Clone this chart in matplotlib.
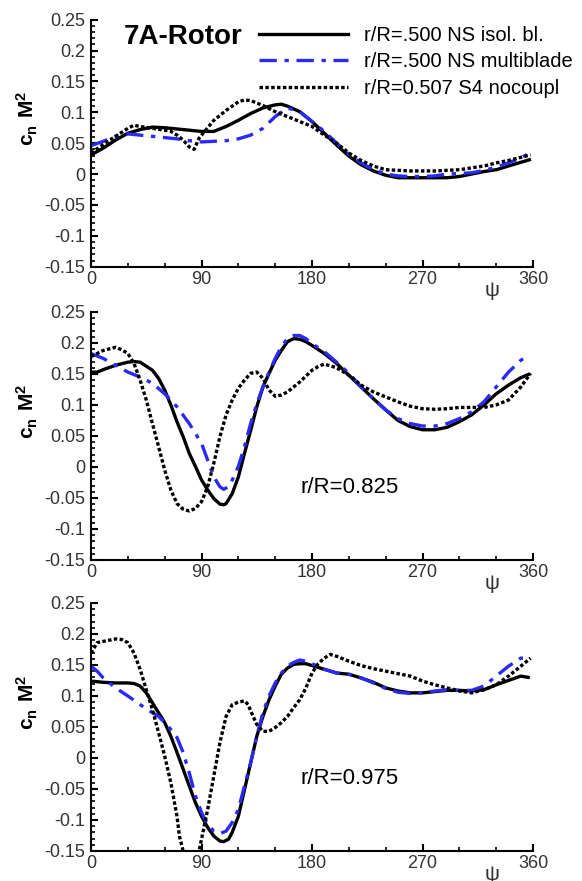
import numpy as np
import matplotlib
matplotlib.use("Agg")
import matplotlib.pyplot as plt
from matplotlib.ticker import MultipleLocator, FuncFormatter

# values: azimuth psi (deg) and c_n M^2

# --- panel 1: r/R = 0.5 ---
psi1_iso = [0, 10, 20, 30, 40, 50, 60, 70, 80, 90, 100, 110, 120, 130, 140, 150, 155,
            160, 170, 180, 190, 200, 210, 220, 230, 240, 250, 260, 270, 280, 290, 300,
            310, 320, 330, 340, 350, 357]
cn1_iso = [0.031, 0.042, 0.055, 0.066, 0.072, 0.076, 0.075, 0.073, 0.071, 0.069, 0.069,
           0.077, 0.087, 0.098, 0.107, 0.112, 0.113, 0.110, 0.101, 0.085, 0.066, 0.047,
           0.029, 0.015, 0.005, -0.002, -0.006, -0.006, -0.006, -0.006, -0.006, -0.004,
           0.000, 0.004, 0.007, 0.013, 0.019, 0.023]
psi1_multi = [0, 10, 20, 30, 40, 50, 60, 70, 80, 90, 100, 110, 120, 130, 140, 150, 160,
              170, 180, 190, 200, 210, 220, 230, 240, 250, 260, 270, 280, 290, 300, 310,
              320, 330, 340, 350, 357]
cn1_multi = [0.046, 0.053, 0.061, 0.065, 0.063, 0.061, 0.059, 0.057, 0.054, 0.052, 0.053,
             0.054, 0.057, 0.063, 0.074, 0.093, 0.107, 0.101, 0.085, 0.069, 0.050, 0.032,
             0.018, 0.007, 0.000, -0.003, -0.004, -0.004, -0.003, 0.000, 0.001, 0.002,
             0.006, 0.011, 0.018, 0.026, 0.034]
psi1_s4 = [0, 10, 20, 30, 35, 40, 50, 60, 65, 70, 75, 80, 84, 88, 95, 100, 110, 120, 125,
           130, 140, 150, 160, 170, 180, 190, 200, 210, 220, 230, 240, 250, 260, 270, 280,
           290, 300, 310, 320, 330, 340, 350, 358]
cn1_s4 = [0.034, 0.048, 0.061, 0.074, 0.079, 0.077, 0.074, 0.071, 0.069, 0.063, 0.055,
          0.044, 0.040, 0.058, 0.075, 0.087, 0.103, 0.117, 0.120, 0.119, 0.111, 0.101,
          0.093, 0.085, 0.077, 0.063, 0.050, 0.034, 0.022, 0.013, 0.007, 0.006, 0.005,
          0.005, 0.005, 0.006, 0.007, 0.010, 0.013, 0.018, 0.022, 0.027, 0.031]

# --- panel 2: r/R = 0.825 ---
psi2_iso = [0, 5, 10, 20, 30, 35, 40, 50, 55, 60, 65, 70, 75, 80, 85, 90, 95, 100, 105,
            108, 110, 115, 120, 125, 130, 135, 140, 145, 150, 155, 160, 165, 170, 175,
            180, 190, 200, 210, 220, 230, 240, 250, 260, 270, 280, 290, 300, 310, 320,
            330, 340, 350, 356]
cn2_iso = [0.153, 0.153, 0.157, 0.164, 0.169, 0.170, 0.169, 0.156, 0.143, 0.124, 0.100,
           0.073, 0.049, 0.022, 0.001, -0.021, -0.037, -0.051, -0.060, -0.061, -0.059,
           -0.043, -0.016, 0.022, 0.059, 0.097, 0.129, 0.151, 0.172, 0.188, 0.202, 0.207,
           0.206, 0.202, 0.196, 0.183, 0.167, 0.148, 0.129, 0.110, 0.092, 0.075, 0.065,
           0.060, 0.060, 0.064, 0.073, 0.084, 0.100, 0.118, 0.132, 0.144, 0.149]
psi2_multi = [0, 10, 20, 30, 40, 50, 60, 70, 80, 90, 95, 100, 105, 108, 112, 115, 120,
              125, 130, 135, 140, 145, 150, 155, 160, 165, 170, 175, 180, 190, 200, 210,
              220, 230, 240, 250, 260, 270, 280, 290, 300, 310, 320, 330, 340, 350, 356]
cn2_multi = [0.183, 0.175, 0.164, 0.153, 0.145, 0.135, 0.118, 0.097, 0.070, 0.038, 0.011,
             -0.016, -0.032, -0.036, -0.032, -0.021, 0.001, 0.033, 0.070, 0.102, 0.129,
             0.153, 0.175, 0.194, 0.207, 0.212, 0.212, 0.207, 0.199, 0.186, 0.169, 0.151,
             0.129, 0.110, 0.092, 0.078, 0.070, 0.066, 0.066, 0.070, 0.078, 0.089, 0.105,
             0.129, 0.153, 0.172, 0.180]
psi2_s4 = [0, 5, 10, 20, 25, 30, 35, 40, 45, 50, 55, 60, 65, 70, 75, 80, 85, 90, 95, 100,
           105, 110, 115, 120, 125, 130, 135, 140, 145, 150, 155, 160, 170, 180, 185, 190,
           200, 210, 220, 230, 240, 250, 260, 270, 280, 290, 300, 310, 320, 330, 340, 350,
           358]
cn2_s4 = [0.178, 0.183, 0.188, 0.193, 0.189, 0.183, 0.167, 0.140, 0.108, 0.070, 0.033,
          -0.005, -0.037, -0.059, -0.068, -0.071, -0.067, -0.056, -0.032, 0.006, 0.049,
          0.084, 0.108, 0.127, 0.140, 0.151, 0.153, 0.143, 0.124, 0.114, 0.116, 0.121,
          0.137, 0.156, 0.162, 0.166, 0.160, 0.148, 0.132, 0.121, 0.113, 0.105, 0.098,
          0.094, 0.093, 0.094, 0.096, 0.096, 0.096, 0.100, 0.108, 0.129, 0.151]

# --- panel 3: r/R = 0.975 ---
psi3_iso = [0, 10, 20, 30, 35, 40, 45, 50, 55, 60, 65, 70, 75, 80, 85, 90, 95, 100, 105,
            108, 112, 115, 120, 125, 130, 135, 140, 145, 150, 155, 160, 165, 170, 175,
            180, 190, 200, 210, 220, 230, 240, 250, 260, 270, 280, 290, 300, 310, 320,
            330, 340, 350, 356]
cn3_iso = [0.124, 0.122, 0.121, 0.121, 0.120, 0.116, 0.105, 0.089, 0.073, 0.057, 0.035,
           0.009, -0.018, -0.045, -0.072, -0.094, -0.112, -0.126, -0.134, -0.135, -0.131,
           -0.120, -0.094, -0.051, -0.008, 0.035, 0.067, 0.094, 0.116, 0.135, 0.145,
           0.151, 0.152, 0.152, 0.149, 0.143, 0.137, 0.135, 0.129, 0.122, 0.113, 0.108,
           0.105, 0.105, 0.107, 0.109, 0.109, 0.108, 0.110, 0.118, 0.125, 0.132, 0.130]
psi3_multi = [0, 5, 10, 20, 30, 40, 50, 55, 60, 65, 70, 75, 80, 85, 90, 95, 100, 105, 110,
              115, 120, 125, 130, 135, 140, 145, 150, 155, 160, 165, 170, 175, 180, 190,
              200, 210, 220, 230, 240, 250, 260, 270, 280, 290, 300, 310, 320, 330, 340,
              350, 356]
cn3_multi = [0.148, 0.140, 0.129, 0.113, 0.100, 0.086, 0.073, 0.067, 0.057, 0.046, 0.033,
             0.009, -0.024, -0.061, -0.088, -0.107, -0.118, -0.122, -0.118, -0.104, -0.083,
             -0.045, -0.008, 0.035, 0.073, 0.100, 0.121, 0.137, 0.148, 0.154, 0.158, 0.156,
             0.152, 0.143, 0.137, 0.135, 0.129, 0.121, 0.112, 0.106, 0.104, 0.105, 0.108,
             0.110, 0.109, 0.109, 0.116, 0.132, 0.148, 0.161, 0.161]
psi3_s4 = [0, 5, 10, 20, 25, 30, 35, 40, 45, 50, 55, 60, 65, 70, 72, 75, 80, 85, 88, 90,
           95, 100, 105, 110, 115, 120, 125, 128, 130, 135, 140, 145, 150, 155, 160, 165,
           170, 175, 180, 185, 190, 195, 200, 210, 220, 230, 240, 250, 260, 270, 280, 290,
           300, 310, 320, 330, 340, 350, 358]
cn3_s4 = [0.169, 0.186, 0.188, 0.192, 0.191, 0.186, 0.169, 0.143, 0.110, 0.078, 0.041,
          0.003, -0.040, -0.094, -0.126, -0.150, -0.180, -0.170, -0.150, -0.131, -0.083,
          -0.029, 0.025, 0.067, 0.086, 0.090, 0.092, 0.086, 0.076, 0.054, 0.043, 0.043,
          0.049, 0.057, 0.067, 0.081, 0.094, 0.113, 0.137, 0.152, 0.161, 0.167, 0.164,
          0.156, 0.149, 0.144, 0.140, 0.136, 0.132, 0.124, 0.118, 0.113, 0.108, 0.105,
          0.110, 0.118, 0.132, 0.148, 0.161]

legend_labels = ["r/R=.500 NS isol. bl.", "r/R=.500 NS multiblade", "r/R=0.507 S4 nocoupl"]
panel_labels = [None, "r/R=0.825", "r/R=0.975"]
title = "7A-Rotor"

BLUE = "#2a2af2"


def yfmt(v, pos):
    return "%g" % (round(v, 2) + 0.0)


def main():
    plt.rcParams["font.family"] = ["Liberation Sans", "DejaVu Sans"]
    plt.rcParams["axes.unicode_minus"] = False
    plt.rcParams["mathtext.fontset"] = "custom"
    plt.rcParams["mathtext.bf"] = "Liberation Sans:bold"
    plt.rcParams["mathtext.rm"] = "Liberation Sans"

    fig = plt.figure(figsize=(5.82, 8.81), dpi=100)
    rects = [(0.1564, 0.6973, 0.7595, 0.2804),
             (0.1564, 0.3644, 0.7595, 0.2815),
             (0.1564, 0.0341, 0.7595, 0.2815)]
    data = [(psi1_iso, cn1_iso, psi1_multi, cn1_multi, psi1_s4, cn1_s4),
            (psi2_iso, cn2_iso, psi2_multi, cn2_multi, psi2_s4, cn2_s4),
            (psi3_iso, cn3_iso, psi3_multi, cn3_multi, psi3_s4, cn3_s4)]

    for i, (rect, d) in enumerate(zip(rects, data)):
        ax = fig.add_axes(rect)
        ax.plot(d[0], d[1], color="k", lw=2.4, label=legend_labels[0])
        ax.plot(d[2], d[3], color=BLUE, lw=2.4, dashes=(5.2, 2.3, 1.3, 2.3),
                label=legend_labels[1])
        ax.plot(d[4], d[5], color="k", lw=2.4, dashes=(1.05, 0.7),
                dash_capstyle="butt", label=legend_labels[2])

        ax.set_xlim(0, 360)
        ax.set_ylim(-0.15, 0.25)
        ax.spines["top"].set_visible(False)
        ax.spines["right"].set_visible(False)
        ax.spines["left"].set_linewidth(1.5)
        ax.spines["bottom"].set_linewidth(1.5)
        ax.xaxis.set_major_locator(MultipleLocator(90))
        ax.xaxis.set_minor_locator(MultipleLocator(30))
        ax.yaxis.set_major_locator(MultipleLocator(0.05))
        ax.yaxis.set_minor_locator(MultipleLocator(0.01))
        ax.yaxis.set_major_formatter(FuncFormatter(yfmt))
        ax.tick_params(which="both", direction="in", top=False, right=False,
                       labelsize=13, labelcolor="#333333")
        ax.tick_params(which="major", length=5, width=1.5)
        ax.tick_params(which="minor", length=3, width=1.2)
        ax.tick_params(axis="x", pad=3)
        ax.tick_params(axis="y", pad=4)

        ax.text(-0.143, 0.6, r"$\mathbf{c_n\ M^2}$", transform=ax.transAxes,
                rotation=90, ha="center", va="center", fontsize=15)
        ax.text(0.907, -0.095, "\u03c8", transform=ax.transAxes,
                ha="center", va="center", fontsize=15, color="#333333")

        if panel_labels[i]:
            ax.text(171, -0.033, panel_labels[i], ha="left", va="center",
                    fontsize=16)
        else:
            ax.text(0.074, 0.93, title, transform=ax.transAxes, ha="left",
                    va="center", fontsize=20, fontweight="bold")
            ax.legend(loc="upper left", bbox_to_anchor=(0.381, 0.975),
                      frameon=False, fontsize=14.5, handlelength=4.4,
                      handletextpad=0.8, labelspacing=0.38, borderpad=0,
                      borderaxespad=0)

    fig.savefig("out.png", dpi=100)


if __name__ == "__main__":
    main()
